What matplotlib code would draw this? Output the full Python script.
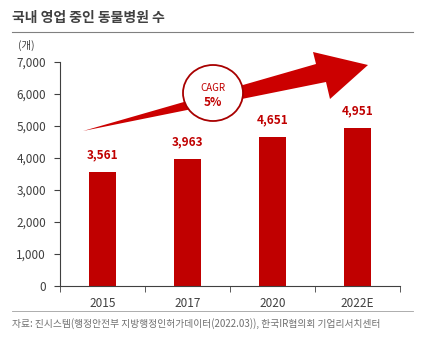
import matplotlib.pyplot as plt
from matplotlib.patches import Polygon, Ellipse
import numpy as np

plt.rcParams['font.family'] = ['Noto Sans CJK KR', 'DejaVu Sans']

# 데이터
years = ['2015', '2017', '2020', '2022E']
counts = [3561, 3963, 4651, 4951]
yticks = [0, 1000, 2000, 3000, 4000, 5000, 6000, 7000]

red = '#C00000'
dark = '#404040'

fig = plt.figure(figsize=(4.23, 3.42), dpi=100)
ax = fig.add_axes([0.1418, 0.1637, 0.8038, 0.655])

x = np.arange(len(years))
ax.bar(x, counts, width=0.32, color=red, zorder=2)
for xi, v in zip(x, counts):
    ax.text(xi, v + 330, f'{v:,}', ha='center', va='bottom', color=red,
            fontsize=8.5, fontweight='bold')

ax.set_xlim(-0.5, len(years) - 0.5)
ax.set_ylim(0, 7000)
ax.set_yticks(yticks)
ax.set_yticklabels([f'{t:,}' for t in yticks])
ax.set_xticks(x)
ax.set_xticklabels(years)
ax.set_xticks(np.arange(len(years) + 1) - 0.5, minor=True)
ax.tick_params(axis='x', which='major', length=0, pad=8, labelsize=8.5, labelcolor=dark)
ax.tick_params(axis='x', which='minor', length=4, direction='out', color=dark)
ax.tick_params(axis='y', length=4, direction='out', color=dark, labelsize=8.5,
               labelcolor=dark, pad=6)
for s in ['top', 'right']:
    ax.spines[s].set_visible(False)
for s in ['left', 'bottom']:
    ax.spines[s].set_color(dark)
    ax.spines[s].set_linewidth(0.8)

# 증가 화살표 (figure 픽셀 좌표 -> figure 비율)
W, H = 423, 342
pts = [(83, 131), (316, 64), (313, 52), (368, 65), (330, 99), (326, 82)]
arrow = Polygon([(px / W, 1 - py / H) for px, py in pts], closed=True,
                transform=fig.transFigure, facecolor='#CC0000', edgecolor='none', zorder=3)
fig.patches.append(arrow)

circ = Ellipse((213 / W, 1 - 93 / H), 60 / W, 56 / H, transform=fig.transFigure,
               facecolor='white', edgecolor='#A80000', linewidth=1.3, zorder=4)
fig.patches.append(circ)
fig.text(213 / W, 1 - 88 / H, 'CAGR', ha='center', va='center', color=red, fontsize=7, zorder=5)
fig.text(213 / W, 1 - 102 / H, '5%', ha='center', va='center', color=red, fontsize=8.5,
         fontweight='bold', zorder=5)

# 제목, 단위, 출처
fig.text(12 / W, 1 - 18 / H, '국내 영업 중인 동물병원 수', ha='left', va='center',
         fontsize=10, fontweight='bold', color='#404040')
fig.add_artist(plt.Line2D([12 / W, 413 / W], [1 - 32 / H, 1 - 32 / H], color='#808080', lw=0.8))
fig.text(18 / W, 1 - 45 / H, '(개)', ha='left', va='center', fontsize=7.5, color=dark)
fig.add_artist(plt.Line2D([12 / W, 413 / W], [1 - 311 / H, 1 - 311 / H], color='#A0A0A0', lw=0.6))
fig.text(12 / W, 1 - 324 / H,
         '자료: 진시스템(행정안전부 지방행정인허가데이터(2022.03)), 한국IR협의회 기업리서치센터',
         ha='left', va='center', fontsize=7, color='#707070')

fig.savefig('out.png', dpi=100)
